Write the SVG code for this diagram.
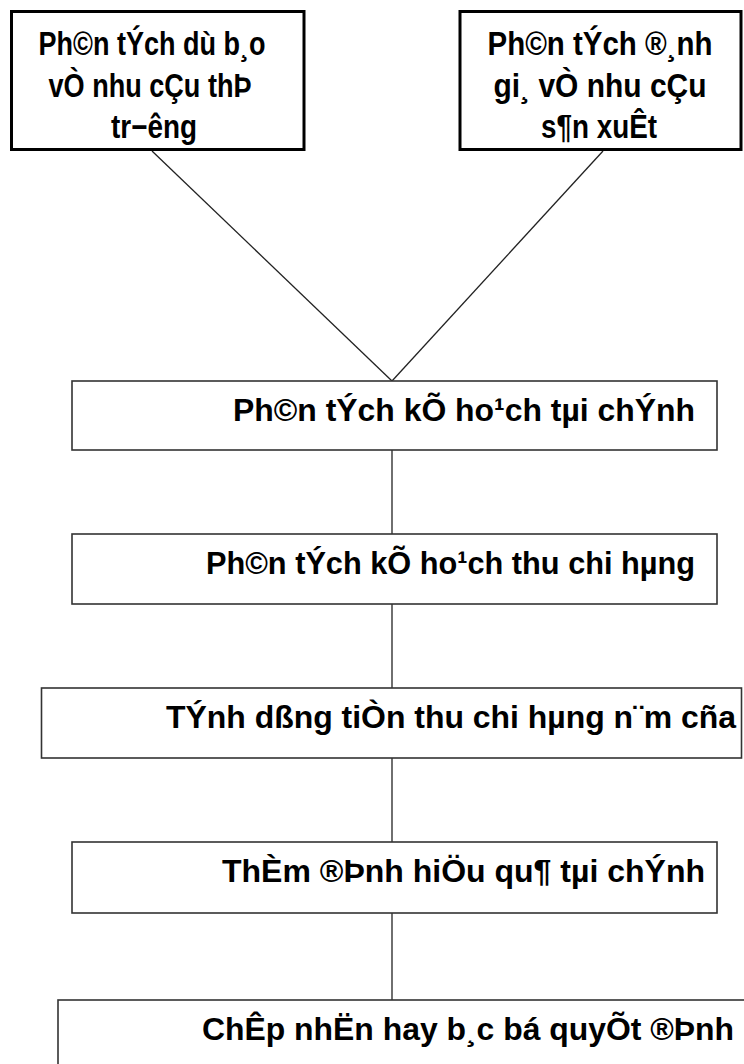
<svg xmlns="http://www.w3.org/2000/svg" width="744" height="1064" viewBox="0 0 744 1064">
<style>
.bg{fill:#fff}
.top{fill:#fff;stroke:#000;stroke-width:3}
.box{fill:#fff;stroke:#333;stroke-width:1.6}
.conn{stroke:#222;stroke-width:1.3;fill:none}
.t{font-family:"Liberation Sans",Arial,sans-serif;font-weight:bold;fill:#000}
.tt{font-size:33px;text-anchor:middle}
.lt{font-size:32px;text-anchor:end}
</style>
<rect class="bg" x="0" y="0" width="744" height="1064"/>
<g id="connectors">
<line class="conn" x1="152" y1="151" x2="392" y2="381"/>
<line class="conn" x1="603" y1="151" x2="392" y2="381"/>
<line class="conn" x1="392" y1="450" x2="392" y2="534"/>
<line class="conn" x1="392" y1="604" x2="392" y2="688"/>
<line class="conn" x1="392" y1="758" x2="392" y2="842"/>
<line class="conn" x1="392" y1="913" x2="392" y2="1000"/>
</g>
<g id="n1">
<rect class="top" x="11.5" y="11.5" width="292.5" height="138"/>
<text class="t tt" x="152" y="55" textLength="227" lengthAdjust="spacingAndGlyphs">Ph©n tÝch dù b¸o</text>
<text class="t tt" x="150" y="97" textLength="203" lengthAdjust="spacingAndGlyphs">vÒ nhu cÇu thÞ</text>
<text class="t tt" x="154" y="138" textLength="86" lengthAdjust="spacingAndGlyphs">tr−êng</text>
</g>
<g id="n2">
<rect class="top" x="460" y="11.5" width="281" height="138"/>
<text class="t tt" x="600" y="55" textLength="225" lengthAdjust="spacingAndGlyphs">Ph©n tÝch ®¸nh</text>
<text class="t tt" x="600" y="97" textLength="213" lengthAdjust="spacingAndGlyphs">gi¸ vÒ nhu cÇu</text>
<text class="t tt" x="599" y="138" textLength="116" lengthAdjust="spacingAndGlyphs">s¶n xuÊt</text>
</g>
<g id="n3">
<rect class="box" x="72" y="381" width="645" height="69"/>
<text class="t lt" x="695" y="421" textLength="462" lengthAdjust="spacingAndGlyphs">Ph©n tÝch kÕ ho¹ch tµi chÝnh</text>
</g>
<g id="n4">
<rect class="box" x="72" y="534" width="645" height="70"/>
<text class="t lt" x="695" y="574" textLength="489" lengthAdjust="spacingAndGlyphs">Ph©n tÝch kÕ ho¹ch thu chi hµng</text>
</g>
<g id="n5">
<rect class="box" x="41.5" y="688" width="700" height="70"/>
<text class="t lt" x="736" y="728" textLength="570" lengthAdjust="spacingAndGlyphs">TÝnh dßng tiÒn thu chi hµng n¨m cña</text>
</g>
<g id="n6">
<rect class="box" x="72" y="842" width="645" height="71"/>
<text class="t lt" x="705" y="882" textLength="483" lengthAdjust="spacingAndGlyphs">ThÈm ®Þnh hiÖu qu¶ tµi chÝnh</text>
</g>
<g id="n7">
<rect class="box" x="58" y="1000" width="700" height="100"/>
<text class="t lt" x="734" y="1040" textLength="532" lengthAdjust="spacingAndGlyphs">ChÊp nhËn hay b¸c bá quyÕt ®Þnh</text>
</g>
</svg>
